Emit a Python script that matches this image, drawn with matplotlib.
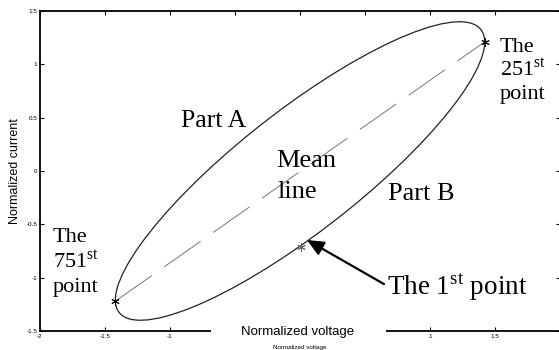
import matplotlib
matplotlib.use("Agg")
import matplotlib.pyplot as plt
from matplotlib.patches import Ellipse, Rectangle

plt.rcParams['font.family'] = 'Liberation Sans'
plt.rcParams['mathtext.fontset'] = 'custom'
plt.rcParams['mathtext.rm'] = 'Liberation Serif'
plt.rcParams['lines.scale_dashes'] = False

# ellipse (centre, full width/height, tilt in degrees)
ell_center = (0.0, 0.0)
ell_width = 3.85
ell_height = 1.04
ell_angle = 44.5

# mean line end points (751st point -> 251st point)
mean_x = [-1.42, 1.42]
mean_y = [-1.22, 1.21]

# marked points
end_x = [1.42, -1.42]
end_y = [1.21, -1.22]
first_x = [0.005]
first_y = [-0.71]

# middle x tick labels sit under the x label box, so they are not shown
xticks = [-2, -1.5, -1, -0.5, 0, 0.5, 1, 1.5, 2]
xticklabels = ['-2', '-1.5', '-1', '', '', '', '1', '1.5', '']
yticks = [-1.5, -1, -0.5, 0, 0.5, 1, 1.5]
yticklabels = ['-1.5', '-1', '-0.5', '0', '0.5', '1', '1.5']

fig = plt.figure(figsize=(5.59, 3.5), dpi=100)
ax = fig.add_axes([40/559, 19/350, 520/559, 320/350])

ax.add_patch(Ellipse(ell_center, ell_width, ell_height, angle=ell_angle,
                     fill=False, edgecolor='#222222', lw=0.9))
ax.plot(mean_x, mean_y, color='#777777', lw=0.7, dashes=(32, 11))
# matlab style asterisk markers
ax.plot(end_x, end_y, ls='none', marker=(6, 2, 0), ms=6, mew=0.7,
        color='black')
ax.plot(first_x, first_y, ls='none', marker=(6, 2, 0), ms=6, mew=0.7,
        color='#666666')

ax.set_xlim(-2, 2)
ax.set_ylim(-1.5, 1.5)
ax.set_xticks(xticks)
ax.set_yticks(yticks)
ax.set_xticklabels(xticklabels)
ax.set_yticklabels(yticklabels)
ax.tick_params(direction='in', length=3, width=0.8, labelsize=4.5, pad=2,
               top=True, right=True)
for s in ax.spines.values():
    s.set_linewidth(1.3)

ax.set_ylabel('Normalized current', fontsize=9, labelpad=4)

serif = 'Liberation Serif'
ax.text(-0.915, 0.413, 'Part A', family=serif, fontsize=18.5)
ax.text(-0.185, 0.0375, 'Mean', family=serif, fontsize=19)
ax.text(-0.17, -0.253, 'line', family=serif, fontsize=19)
ax.text(0.677, -0.272, 'Part B', family=serif, fontsize=19)

ax.text(1.538, 1.116, 'The', family=serif, fontsize=16)
ax.text(1.538, 0.891, r'251$^{\rm st}$', family=serif, fontsize=16)
ax.text(1.538, 0.675, 'point', family=serif, fontsize=16)

ax.text(-1.9, -0.666, 'The', family=serif, fontsize=16)
ax.text(-1.9, -0.909, r'751$^{\rm st}$', family=serif, fontsize=16)
ax.text(-1.9, -1.134, 'point', family=serif, fontsize=16)

ax.text(0.669, -1.162, r'The 1$^{\rm st}$ point', family=serif, fontsize=19.5)
ax.annotate('', xy=(0.054, -0.647), xytext=(0.646, -1.06),
            arrowprops=dict(arrowstyle='-|>,head_length=1.0,head_width=0.45',
                            color='black', lw=1.6, shrinkA=0, shrinkB=0))

# white box over the bottom axis holding the x label
fig.add_artist(Rectangle((211/559, 0), 175/559, 28/350, transform=fig.transFigure,
                         facecolor='white', edgecolor='none', zorder=5))
fig.text(298/559, 1 - 332/350, 'Normalized voltage', fontsize=9.5,
         ha='center', va='center', zorder=6)
fig.text(300/559, 1 - 347.5/350, 'Normalized voltage', fontsize=4.5,
         ha='center', va='center', zorder=6)

fig.savefig('out.png', dpi=100)
